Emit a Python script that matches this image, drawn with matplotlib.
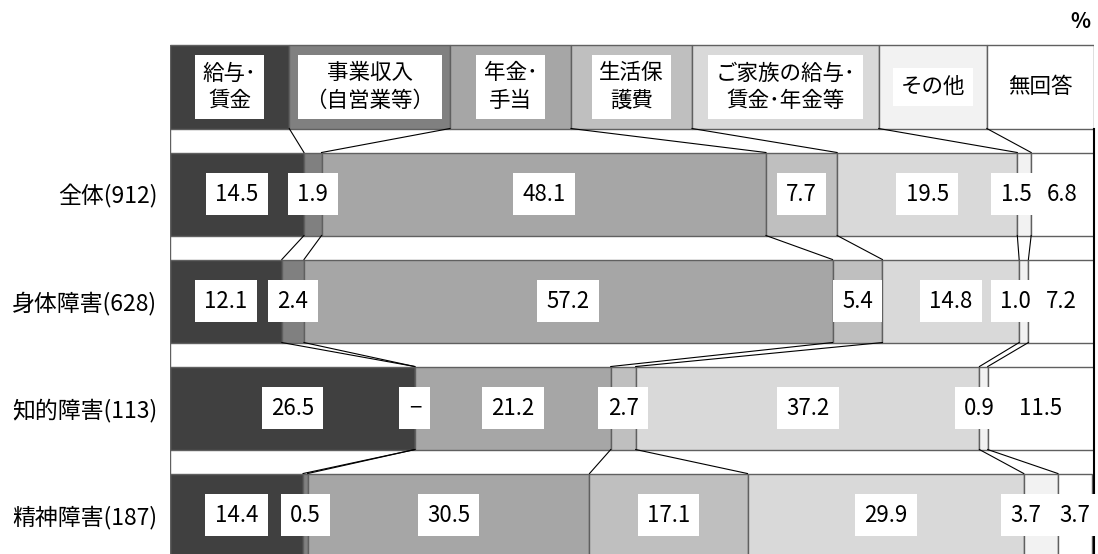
import matplotlib
matplotlib.use("Agg")
import matplotlib.pyplot as plt

plt.rcParams['font.family'] = ['Noto Sans CJK JP', 'DejaVu Sans']

# 収入源の区分と回答者グループ
categories = ["給与･\n賃金", "事業収入\n（自営業等）", "年金･\n手当", "生活保\n護費",
              "ご家族の給与･\n賃金･年金等", "その他", "無回答"]
groups = ["全体(912)", "身体障害(628)", "知的障害(113)", "精神障害(187)"]

# 割合（%）
zentai = [14.5, 1.9, 48.1, 7.7, 19.5, 1.5, 6.8]
shintai = [12.1, 2.4, 57.2, 5.4, 14.8, 1.0, 7.2]
chiteki = [26.5, 0.0, 21.2, 2.7, 37.2, 0.9, 11.5]
seishin = [14.4, 0.5, 30.5, 17.1, 29.9, 3.7, 3.7]
rows = [zentai, shintai, chiteki, seishin]

colors = ["#404040", "#808080", "#a6a6a6", "#bfbfbf", "#d9d9d9", "#f2f2f2", "#ffffff"]

# 凡例ボックスの区切り位置（横軸 0-100 上）
legend_edges = [0, 12.9, 30.3, 43.4, 56.5, 76.7, 88.4, 100]
# 細い区分の数値ラベルを少し左へずらす
label_shift = {(0, 5): -0.9, (1, 5): -0.85, (2, 5): -0.45, (3, 5): -1.6}

fig = plt.figure(figsize=(10.98, 5.54), dpi=100)
ax = fig.add_axes([170 / 1098, 0, 924 / 1098, 1])
h = 83 / 107
ax.set_xlim(0, 100)
ax.set_ylim(4.364, -0.813)

edge = "#606060"

# 凡例の行
for i, cat in enumerate(categories):
    x0, x1 = legend_edges[i], legend_edges[i + 1]
    ax.barh(0, x1 - x0, left=x0, height=h, color=colors[i], edgecolor=edge, linewidth=1)
    ax.text((x0 + x1) / 2, 0, cat, ha="center", va="center", fontsize=15.5, linespacing=1.3,
            bbox=dict(boxstyle="square,pad=0.35", fc="white", ec="none"))

# 帯グラフ
for r, vals in enumerate(rows, start=1):
    left = 0
    for i, v in enumerate(vals):
        ax.barh(r, v, left=left, height=h, color=colors[i], edgecolor=edge, linewidth=1)
        xc = left + v / 2 + label_shift.get((r - 1, i), 0)
        txt = "−" if v == 0 else f"{v:.1f}"
        ax.text(xc, r, txt, ha="center", va="center", fontsize=16,
                bbox=dict(boxstyle="square,pad=0.42", fc="white", ec="none"))
        left += v

# 行同士をつなぐ線
bounds = [legend_edges[1:-1]]
for vals in rows:
    cum, b = 0, []
    for v in vals[:-1]:
        cum += v
        b.append(cum)
    bounds.append(b)
for r in range(len(bounds) - 1):
    for a, b in zip(bounds[r], bounds[r + 1]):
        ax.plot([a, b], [r + h / 2, r + 1 - h / 2], color="black", linewidth=0.8)

# 枠線
ax.plot([0, 0], [h / 2, 5], color=edge, linewidth=1)
ax.plot([100, 100], [h / 2, 5], color="black", linewidth=1.5, clip_on=False)

for s in ax.spines.values():
    s.set_visible(False)
ax.set_xticks([])
ax.set_yticks(range(1, 5))
ax.set_yticklabels(groups, fontsize=16.5)
ax.tick_params(axis="y", length=0, pad=9)

fig.text(1080 / 1098, 1 - 22 / 554, "%", ha="center", va="center", fontsize=15, fontweight="bold")

fig.savefig("out.png", dpi=100)
